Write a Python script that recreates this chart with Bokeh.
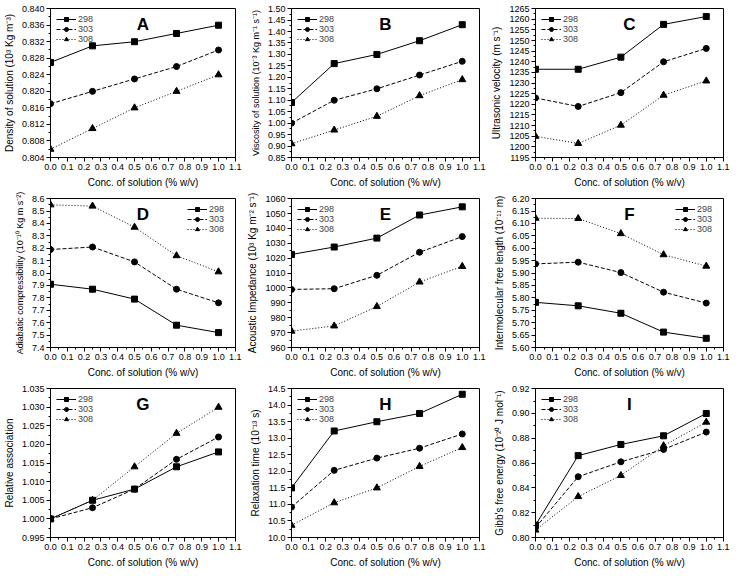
from bokeh.plotting import figure
from bokeh.layouts import gridplot
from bokeh.models import FixedTicker, PrintfTickFormatter, Range1d, Label
from bokeh.embed import file_html
from bokeh.resources import INLINE

conc = [0.0, 0.25, 0.5, 0.75, 1.0]
temps = ["298", "303", "308"]

# Panel A: density
dens_298 = [0.827, 0.831, 0.832, 0.834, 0.836]
dens_303 = [0.817, 0.820, 0.823, 0.826, 0.830]
dens_308 = [0.806, 0.811, 0.816, 0.820, 0.824]
# Panel B: viscosity
visc_298 = [1.09, 1.26, 1.30, 1.36, 1.43]
visc_303 = [1.00, 1.10, 1.15, 1.21, 1.27]
visc_308 = [0.91, 0.97, 1.03, 1.12, 1.19]
# Panel C: ultrasonic velocity
vel_298 = [1236.5, 1236.5, 1242.2, 1257.6, 1261.3]
vel_303 = [1223.0, 1219.0, 1225.5, 1240.0, 1246.3]
vel_308 = [1205.0, 1201.6, 1210.2, 1224.3, 1231.0]
# Panel D: adiabatic compressibility
comp_298 = [7.91, 7.87, 7.79, 7.58, 7.52]
comp_303 = [8.19, 8.21, 8.09, 7.87, 7.76]
comp_308 = [8.55, 8.54, 8.37, 8.14, 8.01]
# Panel E: acoustic impedance
imp_298 = [1022.5, 1027.5, 1033.5, 1049.0, 1054.5]
imp_303 = [999.0, 999.5, 1008.5, 1024.0, 1034.5]
imp_308 = [971.0, 974.5, 987.5, 1004.0, 1014.5]
# Panel F: intermolecular free length
lf_298 = [5.782, 5.768, 5.738, 5.662, 5.637]
lf_303 = [5.937, 5.944, 5.902, 5.823, 5.779]
lf_308 = [6.121, 6.120, 6.059, 5.974, 5.928]
# Panel G: relative association
ra_298 = [1.000, 1.005, 1.008, 1.014, 1.018]
ra_303 = [1.000, 1.003, 1.008, 1.016, 1.022]
ra_308 = [1.000, 1.005, 1.014, 1.023, 1.030]
# Panel H: relaxation time
rt_298 = [11.50, 13.22, 13.50, 13.75, 14.33]
rt_303 = [10.92, 12.03, 12.40, 12.70, 13.13]
rt_308 = [10.37, 11.05, 11.50, 12.15, 12.72]
# Panel I: Gibb's free energy
ge_298 = [0.810, 0.866, 0.875, 0.882, 0.900]
ge_303 = [0.808, 0.849, 0.861, 0.871, 0.885]
ge_308 = [0.806, 0.833, 0.850, 0.874, 0.893]

x_ticks = [0.0, 0.1, 0.2, 0.3, 0.4, 0.5, 0.6, 0.7, 0.8, 0.9, 1.0, 1.1]
x_label = "Conc. of solution (% w/v)"

panels = [
    ("A", "Density of solution (10³ Kg m⁻³)", (dens_298, dens_303, dens_308), 0.804, 0.840, 0.004, "%.3f", "top_left"),
    ("B", "Viscosity of solution (10⁻³ Kg m⁻¹ s⁻¹)", (visc_298, visc_303, visc_308), 0.85, 1.50, 0.05, "%.2f", "top_left"),
    ("C", "Ultrasonic velocity (m s⁻¹)", (vel_298, vel_303, vel_308), 1195, 1265, 5, "%d", "top_left"),
    ("D", "Adiabatic compressibility (10⁻¹⁰ Kg m s⁻²)", (comp_298, comp_303, comp_308), 7.4, 8.6, 0.1, "%.1f", "top_right"),
    ("E", "Acoustic Impedance (10³ Kg m⁻² s⁻¹)", (imp_298, imp_303, imp_308), 960, 1060, 10, "%d", "top_left"),
    ("F", "Intermolecular free length (10⁻¹¹ m)", (lf_298, lf_303, lf_308), 5.60, 6.20, 0.05, "%.2f", "top_right"),
    ("G", "Relative association", (ra_298, ra_303, ra_308), 0.995, 1.035, 0.005, "%.3f", "top_left"),
    ("H", "Relaxation time (10⁻¹³ s)", (rt_298, rt_303, rt_308), 10.0, 14.5, 0.5, "%.1f", "top_left"),
    ("I", "Gibb's free energy (10⁻²⁰ J mol⁻¹)", (ge_298, ge_303, ge_308), 0.80, 0.92, 0.02, "%.2f", "top_left"),
]

FONT = "Liberation Sans"
dashes = ["solid", "4 2", "1 2"]
markers = ["square", "circle", "triangle"]

figs = []
for letter, ylab, series, ymin, ymax, ystep, fmt, loc in panels:
    yr = ymax - ymin
    eps = yr * 1e-3
    p = figure(width=244, height=190, output_backend="svg", toolbar_location=None,
               x_range=Range1d(0, 1.1 + 1e-3), y_range=Range1d(ymin, ymax + eps),
               min_border_left=44, min_border_right=9, min_border_top=8, min_border_bottom=30)
    p.grid.visible = False
    p.outline_line_color = "black"
    p.outline_line_width = 1
    p.outline_line_alpha = 1
    n = int(round(yr / ystep))
    yt = [round(ymin + i * ystep, 6) for i in range(n + 1)]
    ym = [round(ymin + (i + 0.5) * ystep, 6) for i in range(n)]
    p.yaxis.ticker = FixedTicker(ticks=yt, minor_ticks=ym)
    p.yaxis.formatter = PrintfTickFormatter(format=fmt)
    xm = [round(x + 0.05, 3) for x in x_ticks[:-1]]
    p.xaxis.ticker = FixedTicker(ticks=x_ticks, minor_ticks=xm)
    p.xaxis.formatter = PrintfTickFormatter(format="%.1f")
    for ax in (p.xaxis, p.yaxis):
        ax.major_label_text_font = FONT
        ax.major_label_text_font_size = "9px"
        ax.major_label_text_color = "black"
        ax.axis_label_text_font = FONT
        ax.axis_label_text_font_size = "10px"
        ax.axis_label_text_font_style = "normal"
        ax.axis_label_text_color = "black"
        ax.major_tick_out = 4
        ax.major_tick_in = 0
        ax.minor_tick_out = 2
        ax.minor_tick_in = 0
        ax.major_label_standoff = 2
        ax.axis_label_standoff = 4
        ax.axis_line_color = "black"
    p.yaxis.axis_label_text_font_size = "9px" if len(ylab) > 36 else "10px"
    p.xaxis.axis_label = x_label
    p.yaxis.axis_label = ylab
    for vals, t, d, m in zip(series, temps, dashes, markers):
        p.line(conc, vals, line_color="black", line_width=1, line_dash=d, legend_label=t)
        p.scatter(conc, vals, marker=m, size=6 if m != "triangle" else 7,
                  fill_color="black", line_color="black", legend_label=t)
    p.legend.location = loc
    p.legend.background_fill_alpha = 0
    p.legend.border_line_alpha = 0
    p.legend.label_text_font = FONT
    p.legend.label_text_font_size = "9px"
    p.legend.label_height = 10
    p.legend.glyph_height = 10
    p.legend.glyph_width = 20
    p.legend.spacing = 0
    p.legend.padding = 2
    p.legend.margin = 4
    p.legend.label_standoff = 2
    p.add_layout(Label(x=0.55, y=ymax - 0.04 * yr, text=letter, text_font=FONT,
                       text_font_size="17px", text_font_style="bold",
                       text_align="center", text_baseline="top", text_color="black"))
    figs.append(p)

grid = gridplot(figs, ncols=3, toolbar_location=None)
open("out.html", "w").write(file_html(grid, INLINE))
